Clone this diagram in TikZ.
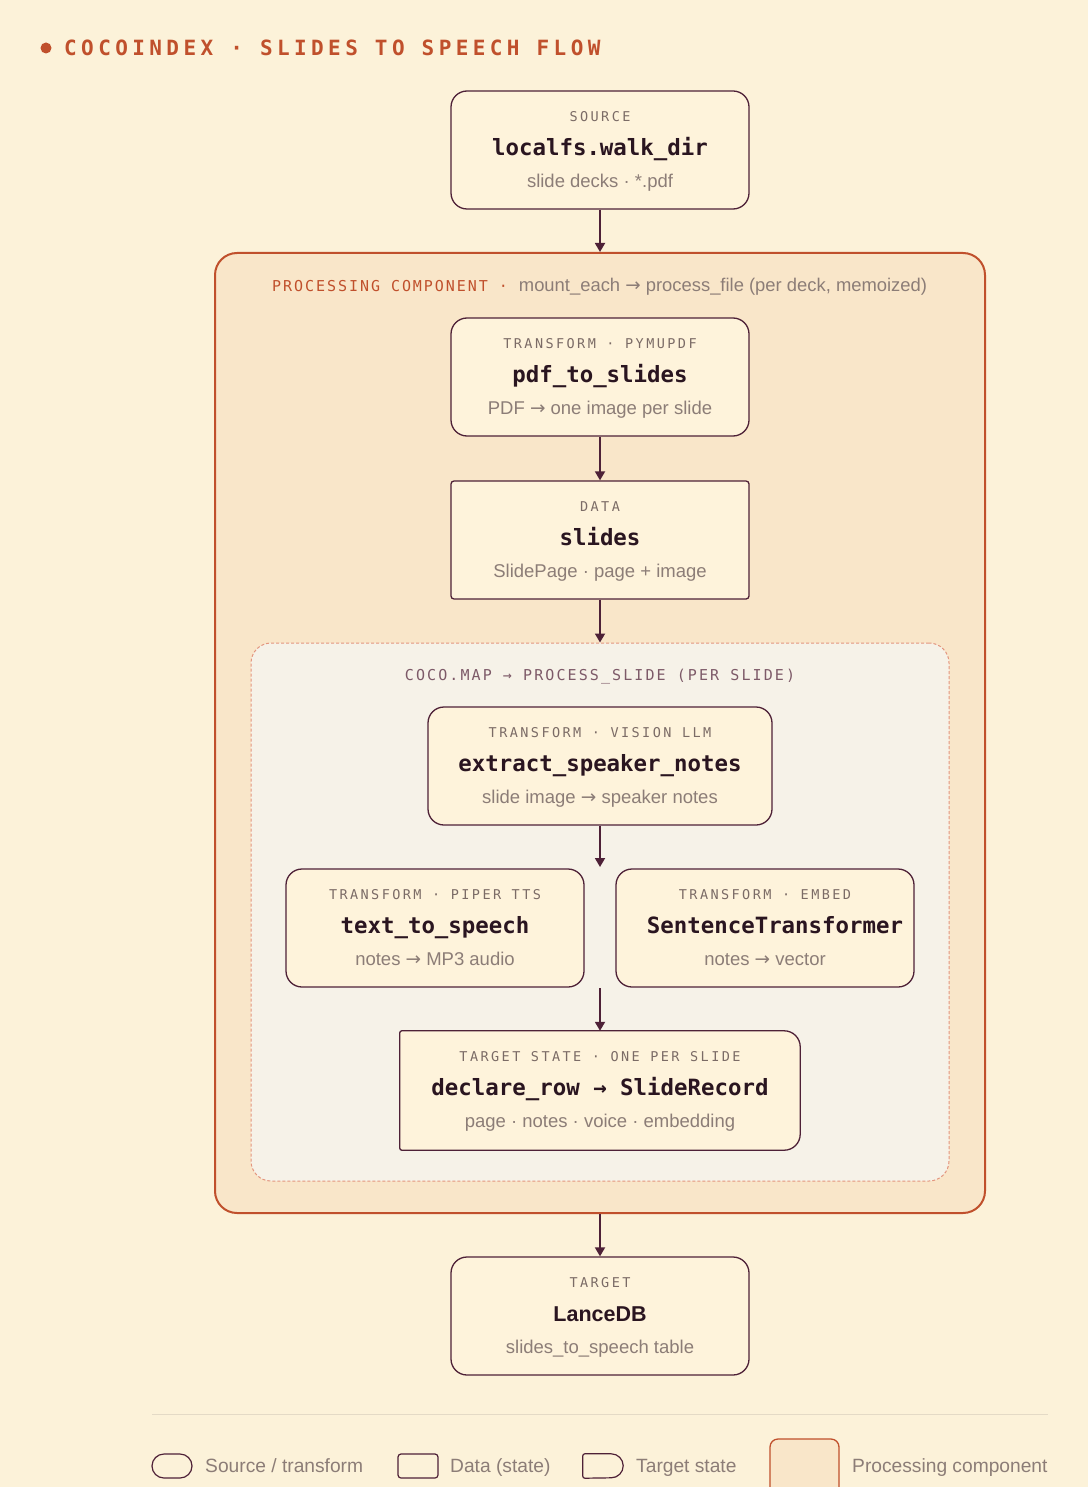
\documentclass[tikz,border=0pt]{standalone}
\usepackage{fontspec}
\setmainfont{Liberation Sans}
\newfontfamily\monof{DejaVu Sans Mono}
\newfontfamily\arrf{DejaVu Sans}
\newfontfamily\capsf[LetterSpace=18]{DejaVu Sans Mono}
\newfontfamily\headf[LetterSpace=21]{DejaVu Sans Mono}
\newfontfamily\procf[LetterSpace=13]{DejaVu Sans Mono}
\newfontfamily\cocof[LetterSpace=14]{DejaVu Sans Mono}
\usetikzlibrary{arrows.meta}
\newcommand\setfs[1]{\fontsize{#1}{#1}\selectfont}
\newcommand\rarr{{\arrf →}}
\definecolor{bgc}{HTML}{FCF2D9}
\definecolor{procc}{HTML}{F9E6C9}
\definecolor{cococ}{HTML}{F6F2E8}
\definecolor{nodec}{HTML}{FEF3DB}
\definecolor{plum}{HTML}{4E2137}
\definecolor{rust}{HTML}{C0502C}
\definecolor{lblc}{HTML}{7B6B66}
\definecolor{subc}{HTML}{8C7D77}
\definecolor{ttlc}{HTML}{2A1520}
\definecolor{cocolc}{HTML}{7D5A68}
\definecolor{dashc}{HTML}{E3957E}
\definecolor{sepc}{HTML}{E4DAC6}
\begin{document}
\begin{tikzpicture}[x=1pt,y=1pt,
  box/.style={draw=plum, line width=1.3pt, fill=nodec, minimum width=298pt, minimum height=118pt, inner sep=0pt},
  tbox/.style={box, rounded corners=16pt},
  dbox/.style={box, rounded corners=3pt},
  proc/.style={draw=rust, line width=2pt, fill=procc, rounded corners=22pt, minimum width=770pt, minimum height=960pt, inner sep=0pt},
  coco/.style={draw=dashc, line width=1pt, dash pattern=on 3pt off 2pt, fill=cococ, rounded corners=20pt, minimum width=698pt, minimum height=538pt, inner sep=0pt},
  lbl/.style={font=\capsf\setfs{13.5}, text=lblc, anchor=base, inner sep=0pt},
  ttl/.style={font=\monof\setfs{22.4}\bfseries, text=ttlc, anchor=base, inner sep=0pt},
  sttl/.style={font=\setfs{21.5}\bfseries, text=ttlc, anchor=base, inner sep=0pt},
  sub/.style={font=\setfs{18.5}, text=subc, anchor=base, inner sep=0pt},
  leg/.style={font=\setfs{19.2}, text=subc, anchor=base west, inner sep=0pt},
  legshape/.style={draw=plum, line width=1.2pt, fill=bgc, minimum width=40pt, minimum height=24pt, inner sep=0pt},
  arr/.style={draw=plum, line width=1.8pt, -{Triangle[length=9pt,width=10pt]}},
]
\useasboundingbox (0,0) rectangle (1088,-1487);
\fill[bgc] (0,0) rectangle (1088,-1487);

% title
\node[circle, fill=rust, minimum size=11pt, inner sep=0pt] (dot) at (46,-48) {};
\node[font=\headf\setfs{21}\bfseries, text=rust, anchor=base west, inner sep=0pt] (title) at (64,-55.5) {COCOINDEX · SLIDES TO SPEECH FLOW};

% source
\node[tbox] (src) at (600,-150) {};
\node[lbl] (srcA) at ([yshift=-31pt]src.north) {SOURCE};
\node[ttl] (srcB) at ([yshift=-65pt]src.north) {localfs.walk\_dir};
\node[sub] (srcC) at ([yshift=-97pt]src.north) {slide decks · *.pdf};

% processing component
\node[proc] (proc) at (600,-733) {};
\node[anchor=base west, inner sep=0pt] (procL) at (272,-291.5) {{\procf\setfs{15}\color{rust}PROCESSING COMPONENT ·}\hspace*{11pt}{\setfs{18.4}\color{subc}mount\_each \rarr{} process\_file (per deck, memoized)}};

% pdf_to_slides
\node[tbox] (pdf) at (600,-377) {};
\node[lbl] (pdfA) at ([yshift=-31pt]pdf.north) {TRANSFORM · PYMUPDF};
\node[ttl] (pdfB) at ([yshift=-65pt]pdf.north) {pdf\_to\_slides};
\node[sub] (pdfC) at ([yshift=-97pt]pdf.north) {PDF \rarr{} one image per slide};

% slides
\node[dbox] (sl) at (600,-540) {};
\node[lbl] (slA) at ([yshift=-31pt]sl.north) {DATA};
\node[ttl] (slB) at ([yshift=-65pt]sl.north) {slides};
\node[sub] (slC) at ([yshift=-97pt]sl.north) {SlidePage · page + image};

% coco.map
\node[coco] (cm) at (600,-912) {};
\node[font=\cocof\setfs{15}, text=cocolc, anchor=base, inner sep=0pt] (cmL) at (600,-680.5) {COCO.MAP → PROCESS\_SLIDE (PER SLIDE)};

% extract
\node[tbox, minimum width=344pt] (ext) at (600,-766) {};
\node[lbl] (extA) at ([yshift=-31pt]ext.north) {TRANSFORM · VISION LLM};
\node[ttl] (extB) at ([yshift=-65pt]ext.north) {extract\_speaker\_notes};
\node[sub] (extC) at ([yshift=-97pt]ext.north) {slide image \rarr{} speaker notes};

% tts
\node[tbox] (tts) at (435,-928) {};
\node[lbl] (ttsA) at ([yshift=-31pt]tts.north) {TRANSFORM · PIPER TTS};
\node[ttl] (ttsB) at ([yshift=-65pt]tts.north) {text\_to\_speech};
\node[sub] (ttsC) at ([yshift=-97pt]tts.north) {notes \rarr{} MP3 audio};

% sentence transformer
\node[tbox] (st) at (765,-928) {};
\node[lbl] (stA) at ([yshift=-31pt]st.north) {TRANSFORM · EMBED};
\node[ttl] (stB) at ([xshift=10pt,yshift=-65pt]st.north) {SentenceTransformer};
\node[sub] (stC) at ([yshift=-97pt]st.north) {notes \rarr{} vector};

% target state
\node[minimum width=400pt, minimum height=119pt, inner sep=0pt] (ts) at (600,-1090.5) {};
\draw[draw=plum, line width=1.3pt, fill=nodec]
  ([xshift=2pt]ts.north west) -- ([xshift=-16pt]ts.north east)
  arc[start angle=90, end angle=0, radius=16pt] -- ([yshift=16pt]ts.south east)
  arc[start angle=0, end angle=-90, radius=16pt] -- ([xshift=2pt]ts.south west)
  arc[start angle=270, end angle=180, radius=2pt] -- ([yshift=-2pt]ts.north west)
  arc[start angle=180, end angle=90, radius=2pt] -- cycle;
\node[lbl] (tsA) at ([yshift=-31pt]ts.north) {TARGET STATE · ONE PER SLIDE};
\node[ttl] (tsB) at ([yshift=-65pt]ts.north) {declare\_row → SlideRecord};
\node[sub] (tsC) at ([yshift=-97pt]ts.north) {page · notes · voice · embedding};

% lancedb
\node[tbox] (ldb) at (600,-1316) {};
\node[lbl] (ldbA) at ([yshift=-31pt]ldb.north) {TARGET};
\node[sttl] (ldbB) at ([yshift=-65pt]ldb.north) {LanceDB};
\node[sub] (ldbC) at ([yshift=-97pt]ldb.north) {slides\_to\_speech table};

% connectors
\coordinate (m1) at (600,-867);
\coordinate (m2) at (600,-988);
\draw[arr] (src) -- (proc.north);
\draw[arr] (pdf) -- (sl);
\draw[arr] (sl) -- (cm.north);
\draw[arr] (ext) -- (m1);
\draw[arr] (m2) -- (ts);
\draw[arr] (proc.south) -- (ldb);

% legend
\draw[sepc, line width=1pt] (152,-1414) -- (1048,-1414);
\node[legshape, rounded corners=12pt] (lg1) at (172,-1466) {};
\node[leg] (lg1t) at (205,-1472.5) {Source / transform};
\node[legshape, rounded corners=3pt] (lg2) at (418,-1466) {};
\node[leg] (lg2t) at (450,-1472.5) {Data (state)};
\node[minimum width=40pt, minimum height=24pt, inner sep=0pt] (lg3) at (603,-1466) {};
\draw[draw=plum, line width=1.2pt, fill=bgc]
  ([xshift=2pt]lg3.north west) -- ([xshift=-12pt]lg3.north east)
  arc[start angle=90, end angle=-90, radius=12pt] -- ([xshift=2pt]lg3.south west)
  arc[start angle=270, end angle=180, radius=2pt] -- ([yshift=-2pt]lg3.north west)
  arc[start angle=180, end angle=90, radius=2pt] -- cycle;
\node[leg] (lg3t) at (636,-1472.5) {Target state};
\draw[draw=rust, line width=1.3pt, fill=procc, rounded corners=8pt] (770,-1490) -- (770,-1439) -- (839,-1439) -- (839,-1490);
\node[leg] (lg4t) at (852,-1472.5) {Processing component};
\end{tikzpicture}
\end{document}
